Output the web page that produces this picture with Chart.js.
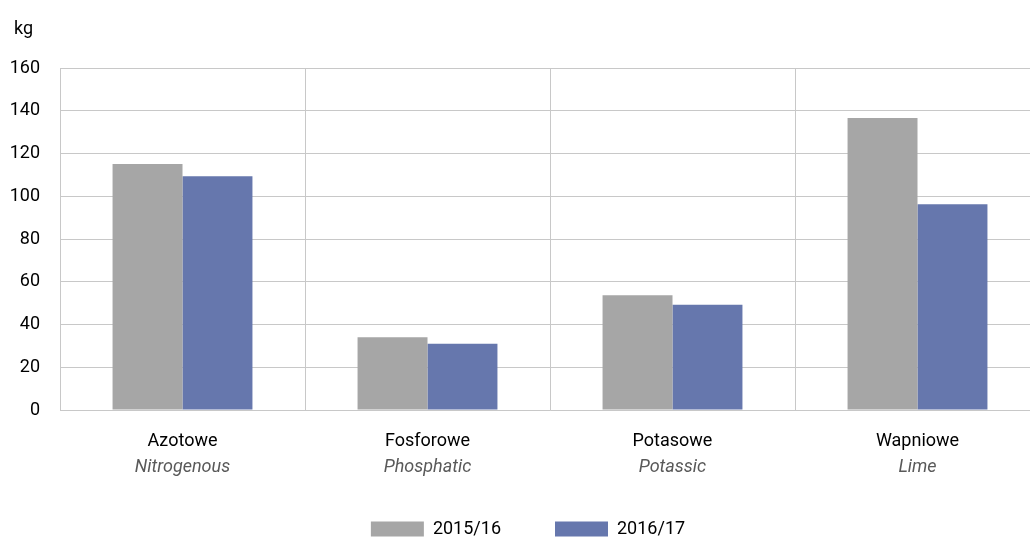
<!DOCTYPE html>
<html>
<head>
<meta charset="utf-8">
<script src="https://cdn.jsdelivr.net/npm/chart.js@4"></script>
<style>
  html, body { margin: 0; padding: 0; background: #fff; overflow: hidden; }
  #wrap { width: 1030px; height: 540px; overflow: hidden; }
</style>
</head>
<body>
<div id="wrap"><canvas id="fertChart" width="1050" height="540"></canvas></div>
<script>
// Fertiliser use per ha, kg
const categories = ['Azotowe', 'Fosforowe', 'Potasowe', 'Wapniowe'];
const categoriesEn = ['Nitrogenous', 'Phosphatic', 'Potassic', 'Lime'];
const seasons = ['2015/16', '2016/17'];
const values1516 = [115.1, 34.0, 53.7, 136.6];
const values1617 = [109.4, 31.0, 49.2, 96.3];
const yMax = 160;
const yStep = 20;

const FONT = 'Roboto';
const colors = ['#a6a6a6', '#6677ad'];
const padBottom = -8;
const padLeft = 16;

// second (english) line under each category + "kg" unit
const extraText = {
    id: 'extraText',
    afterLayout(chart) {
        // let the y labels use the left padding too (otherwise they get clipped)
        chart.scales.y.left = 0;
    },
    afterDraw(chart) {
        let ctx = chart.ctx;
        let xs = chart.scales.x;
        ctx.save();
        ctx.font = 'italic 18px ' + FONT;
        ctx.fillStyle = '#595959';
        ctx.textAlign = 'center';
        ctx.textBaseline = 'middle';
        categoriesEn.forEach((t, i) => {
            ctx.fillText(t, xs.getPixelForTick(i), 467);
        });
        ctx.font = '18px ' + FONT;
        ctx.fillStyle = '#000';
        ctx.textAlign = 'left';
        ctx.fillText('kg', 14, 29);
        ctx.restore();
    }
};

let ctx = document.getElementById('fertChart').getContext('2d');
let chart = new Chart(ctx, {
    type: 'bar',
    data: {
        labels: categories,
        datasets: [
            { label: seasons[0], data: values1516, backgroundColor: colors[0] },
            { label: seasons[1], data: values1617, backgroundColor: colors[1] }
        ]
    },
    options: {
        responsive: false,
        animation: false,
        layout: { padding: { top: 68, right: 10, bottom: padBottom, left: padLeft } },
        datasets: {
            bar: { categoryPercentage: 0.571, barPercentage: 1.0 }
        },
        scales: {
            x: {
                grid: { color: '#c8c8c8', drawTicks: false, offset: true },
                border: { color: '#c8c8c8' },
                ticks: { color: '#000', padding: 21, font: { family: FONT, size: 18 } },
                afterFit: (s) => {
                    s.height = s.chart.height - 410 - s.chart.legend.height - padBottom;
                }
            },
            y: {
                min: 0,
                max: yMax,
                grid: { color: '#c8c8c8', drawTicks: false },
                border: { color: '#c8c8c8' },
                ticks: { stepSize: yStep, color: '#000', padding: 20, font: { family: FONT, size: 18 } },
                afterFit: (s) => { s.width = 60 - padLeft; }
            }
        },
        plugins: {
            legend: {
                position: 'bottom',
                labels: {
                    boxWidth: 53,
                    boxHeight: 15,
                    padding: 54,
                    color: '#000',
                    font: { family: FONT, size: 18 }
                }
            },
            tooltip: { enabled: false }
        }
    },
    plugins: [extraText]
});
</script>
</body>
</html>
